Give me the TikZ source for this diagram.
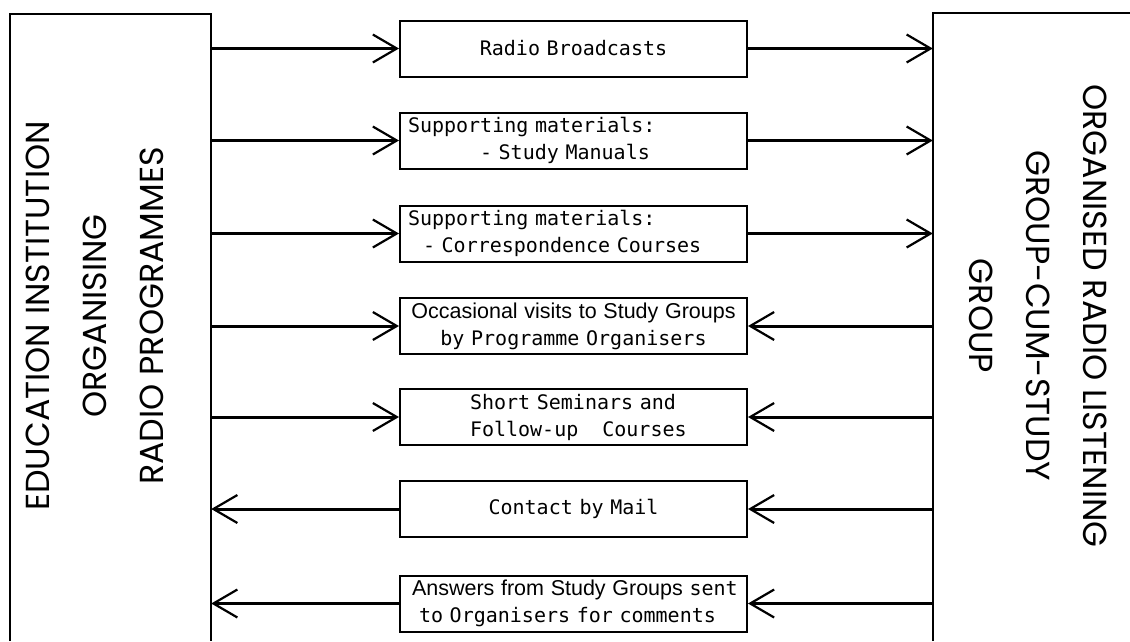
\documentclass[tikz,border=0pt]{standalone}
\usepackage{fontspec}
\newfontfamily\monof{DejaVu Sans Mono}
\newfontfamily\bigf{Poppins}
\newfontfamily\handf{Liberation Sans}
\usetikzlibrary{arrows.meta}
\newcommand{\monoset}{\monof\fontsize{20}{27}\selectfont\spaceskip=\fontcharwd\font`M\relax}
\begin{document}
\begin{tikzpicture}[x=1pt,y=-1pt]
\useasboundingbox[fill=white] (0,0) rectangle (1130,641);
\tikzset{
  flow/.style={line width=3pt, -{Straight Barb[length=24pt,width=28pt,line width=2.2pt]}},
  midbox/.style={draw, line width=2pt, minimum width=347pt, minimum height=56pt,
    inner xsep=8pt, inner ysep=2pt, text width=331pt, font=\monoset},
  bigline/.style={line width=2pt},
  bigtext/.style={font=\bigf\fontsize{33.3}{57}\selectfont, align=center, inner sep=0pt}
}
% outer boxes
\node[minimum width=201pt, minimum height=627pt, inner sep=0pt] (edu) at (110.5,327.5) {};
\node[minimum width=220pt, minimum height=628pt, inner sep=0pt] (grp) at (1043,327) {};
\draw[bigline] (edu.south west) -- (edu.north west) -- (edu.north east) -- (edu.south east);
\draw[bigline] (grp.south west) -- (grp.north west) -- (grp.north east);
\node[bigtext, rotate=90] (edutext) at (95,316)
  {EDUCATION INSTITUTION\\ORGANISING\\RADIO PROGRAMMES};
\node[bigtext, rotate=-90] (grptext) at (1038,316)
  {ORGANISED RADIO LISTENING\\GROUP-CUM-STUDY\\GROUP};
% middle boxes
\node[midbox, align=center] (b1) at (573.5,48.5) {Radio Broadcasts};
\node[midbox, align=left] (b2) at (573.5,140.5)
  {Supporting materials:\\\hspace*{72pt}- Study Manuals};
\node[midbox, align=left] (b3) at (573.5,233.5)
  {Supporting materials:\\\hspace*{15pt}- Correspondence Courses};
\node[midbox, align=center] (b4) at (573.5,326)
  {{\handf\fontsize{21.5}{25}\selectfont Occasional visits to Study Groups}\\by Programme Organisers};
\node[midbox, align=left] (b5) at (573.5,417)
  {\hspace*{62pt}Short Seminars and\\\hspace*{62pt}Follow-up\hspace{24pt}Courses};
\node[midbox, align=center] (b6) at (573.5,509) {Contact by Mail};
\node[midbox, align=left] (b7) at (573.5,603.5)
  {\hspace*{4pt}{\handf\fontsize{21.5}{25}\selectfont Answers from Study Groups} sent\\\hspace*{11pt}to Organisers for comments};
% connectors
\foreach \b in {b1,b2,b3,b4,b5}
  \draw[flow] (edu.east |- \b.west) -- (\b.west);
\foreach \b in {b1,b2,b3}
  \draw[flow] (\b.east) -- (grp.west |- \b.east);
\foreach \b in {b4,b5,b6,b7}
  \draw[flow] (grp.west |- \b.east) -- (\b.east);
\foreach \b in {b6,b7}
  \draw[flow] (\b.west) -- (edu.east |- \b.west);
\end{tikzpicture}
\end{document}
